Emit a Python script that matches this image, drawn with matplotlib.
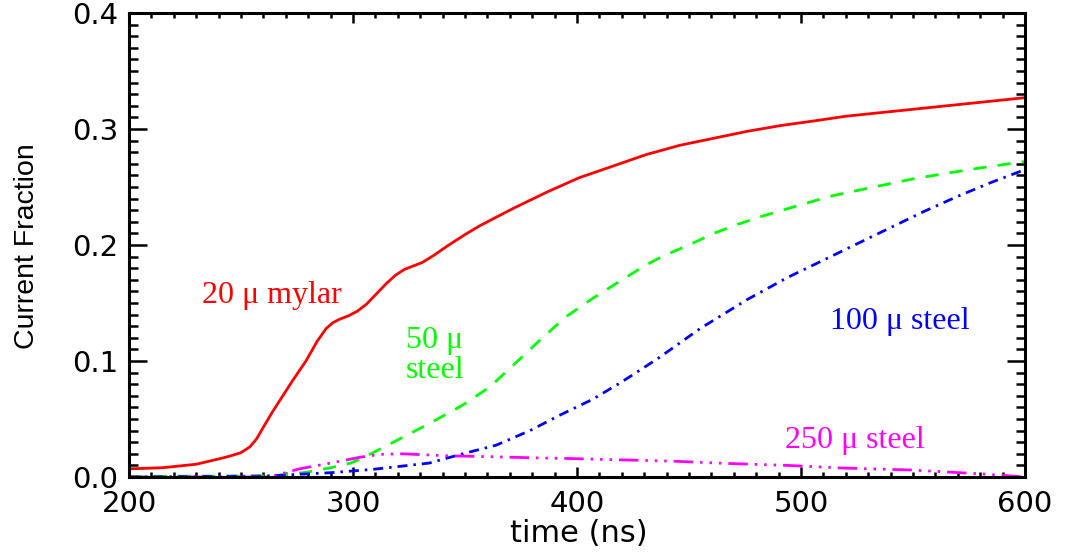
import matplotlib
matplotlib.use("Agg")
import matplotlib.pyplot as plt
from matplotlib.ticker import MultipleLocator, FormatStrFormatter

plt.rcParams["lines.scale_dashes"] = False

# ---------- data ----------
t_mylar20 = [200, 215, 230, 241, 245, 250, 254, 257, 260, 264, 268, 273, 279, 284,
             288, 291, 294, 298, 302, 306, 310, 315, 319, 323, 327, 331, 336, 342,
             350, 357, 372, 387, 401, 416, 431, 446, 461, 476, 491, 506, 520, 540,
             560, 580, 600]
f_mylar20 = [0.007, 0.008, 0.011, 0.016, 0.018, 0.021, 0.026, 0.033, 0.043, 0.056,
             0.068, 0.083, 0.100, 0.117, 0.128, 0.133, 0.136, 0.139, 0.143, 0.149,
             0.157, 0.167, 0.174, 0.179, 0.182, 0.185, 0.191, 0.199, 0.209, 0.217,
             0.232, 0.246, 0.258, 0.268, 0.278, 0.286, 0.292, 0.298, 0.303, 0.307,
             0.311, 0.315, 0.319, 0.323, 0.327]

t_steel50 = [200, 265, 279, 290, 299, 305, 320, 334, 349, 361, 373, 384, 395, 407,
             421, 430, 439, 450, 461, 472, 483, 497, 513, 530, 550, 575, 600]
f_steel50 = [0.0005, 0.001, 0.004, 0.008, 0.012, 0.017, 0.032, 0.046, 0.062, 0.0775,
             0.099, 0.119, 0.138, 0.154, 0.171, 0.182, 0.191, 0.200, 0.210, 0.218,
             0.225, 0.233, 0.242, 0.249, 0.257, 0.265, 0.272]

t_steel100 = [200, 260, 290, 309, 334, 349, 364, 379, 392, 407, 420, 436, 455, 476,
              494, 509, 525, 540, 555, 570, 585, 600]
f_steel100 = [0.0, 0.0008, 0.0037, 0.0066, 0.012, 0.020, 0.0275, 0.040, 0.053, 0.067,
              0.082, 0.102, 0.128, 0.153, 0.172, 0.186, 0.201, 0.215, 0.229, 0.242,
              0.254, 0.265]

t_steel250 = [200, 263, 276, 290, 303, 312, 322, 342, 364, 379, 395, 415, 442, 467,
              494, 519, 550, 581, 600]
f_steel250 = [0.0, 0.0, 0.007, 0.012, 0.017, 0.0195, 0.020, 0.0183, 0.0174, 0.0166,
              0.016, 0.015, 0.0137, 0.0117, 0.0100, 0.0077, 0.006, 0.0026, 0.0]

x_ticks = [200, 300, 400, 500, 600]
y_ticks = [0.0, 0.1, 0.2, 0.3, 0.4]

# ---------- figure ----------
fig = plt.figure(figsize=(10.67, 5.52), dpi=100)
ax = fig.add_axes([129 / 1067, 75 / 552, 896 / 1067, 464 / 552])

ax.plot(t_mylar20, f_mylar20, color="#ff0000", lw=2.0, solid_joinstyle="round")
ax.plot(t_steel50, f_steel50, color="#00ff00", lw=2.0, linestyle=(0, (9.5, 8)))
ax.plot(t_steel100, f_steel100, color="#0000ff", lw=2.0,
        linestyle=(0, (7.2, 4.3, 1.8, 4.3)))
ax.plot(t_steel250, f_steel250, color="#ff00ff", lw=2.0,
        linestyle=(0, (14, 5, 1.8, 5, 1.8, 5, 1.8, 5)))

ax.set_xlim(200, 600)
ax.set_ylim(0, 0.4)
ax.set_xticks(x_ticks)
ax.set_yticks(y_ticks)
ax.xaxis.set_minor_locator(MultipleLocator(10))
ax.yaxis.set_minor_locator(MultipleLocator(0.01))
ax.yaxis.set_major_formatter(FormatStrFormatter("%.1f"))

for s in ax.spines.values():
    s.set_linewidth(2.2)

ax.tick_params(axis="both", which="both", direction="in", top=True, right=True,
               width=1.8, color="black")
ax.tick_params(axis="x", which="major", length=7.2, pad=9)
ax.tick_params(axis="x", which="minor", length=3.6)
ax.tick_params(axis="y", which="major", length=13, pad=8)
ax.tick_params(axis="y", which="minor", length=6.5)
for lab in ax.get_xticklabels() + ax.get_yticklabels():
    lab.set_fontfamily("DejaVu Sans")
    lab.set_fontsize(21)

fig.text(579 / 1067, 1 - 533 / 552, "time (ns)", ha="center", va="center",
         family="DejaVu Sans", fontsize=22)
fig.text(27 / 1067, 1 - 246 / 552, "Current Fraction", ha="center", va="center",
         rotation=90, family=["Liberation Sans", "DejaVu Sans"], fontsize=20.5)

# curve labels
serif = ["Liberation Serif", "DejaVu Serif"]
ax.text(232.5, 0.150, "20 \u03bc mylar", color="#ff0000", family=serif,
        fontsize=23, va="baseline", ha="left")
ax.text(323.7, 0.1116, "50 \u03bc", color="#00ff00", family=serif,
        fontsize=23, va="baseline", ha="left")
ax.text(323.7, 0.085, "steel", color="#00ff00", family=serif,
        fontsize=23, va="baseline", ha="left")
ax.text(512.9, 0.128, "100 \u03bc steel", color="#0000ff", family=serif,
        fontsize=23, va="baseline", ha="left")
ax.text(492.9, 0.025, "250 \u03bc steel", color="#ff00ff", family=serif,
        fontsize=23, va="baseline", ha="left")

fig.savefig("out.png", dpi=100)
